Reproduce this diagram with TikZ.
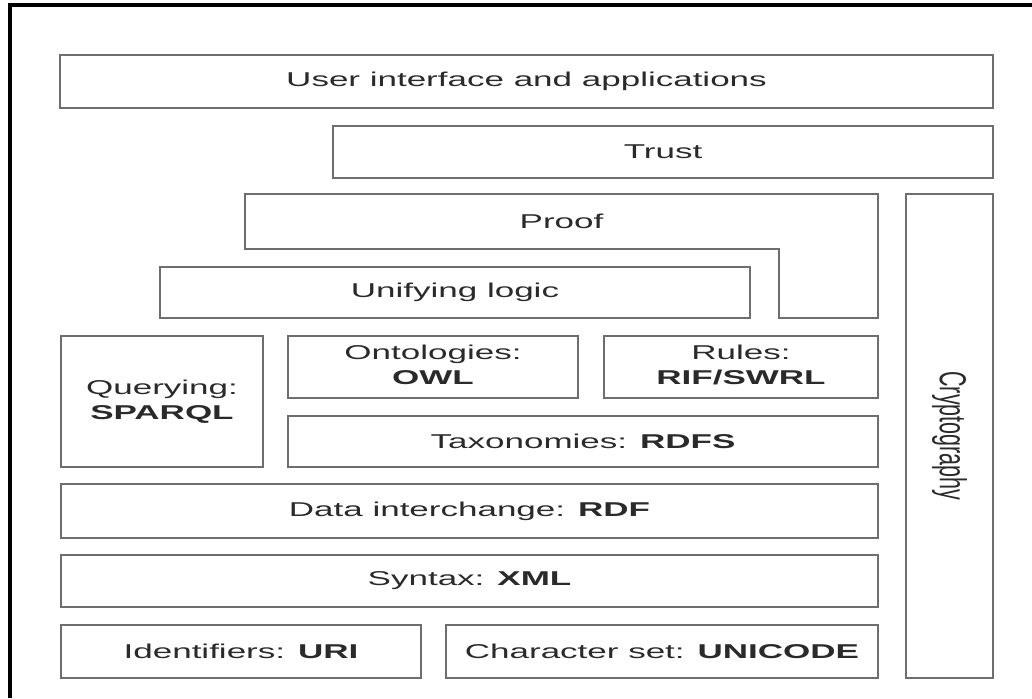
\documentclass[tikz,border=0pt]{standalone}
\usepackage{fontspec}
\setmainfont{Liberation Sans}
\usepackage{graphicx}

\definecolor{edgegray}{HTML}{6E6E6E}
\definecolor{inkgray}{HTML}{2A2A2A}

% the layer texts are stretched sideways
\newcommand\wide[1]{\scalebox{1.75}[1]{#1}}
\newcommand\twoline[2]{\wide{\begin{tabular}{@{}c@{}}#1\\\textbf{#2}\end{tabular}}}

\tikzset{
  layer/.style 2 args={draw=edgegray, line width=2pt, inner sep=0pt,
    minimum width=#1, minimum height=#2, text=inkgray,
    font=\fontsize{20}{25}\selectfont},
  label/.style={text=inkgray, font=\fontsize{20}{25}\selectfont},
}

\begin{document}
\begin{tikzpicture}[x=1pt,y=-1pt]
  \useasboundingbox (0,0) rectangle (1032,698);
  % frame, cut off at right and bottom
  \draw[line width=4pt] (10,698) -- (10,5.5) -- (1032,5.5);

  \node[layer={933}{53}] (user) at (526.5,81.5) {\wide{User interface and applications}};
  \node[layer={660}{52}] (trust) at (663,152) {\wide{Trust}};

  % proof wraps round the end of unifying logic
  \draw[draw=edgegray, line width=2pt] (245,194) -- (878,194) -- (878,318)
    -- (779,318) -- (779,249) -- (245,249) -- cycle;
  \node[label] (proof) at (561.5,221.5) {\wide{Proof}};

  \node[layer={590}{51}] (unify) at (455,292.5) {\wide{Unifying logic}};

  \node[layer={87}{484}, font=\fontsize{21.5}{25}\selectfont] (crypto) at (949.5,436)
    {\wide{\rotatebox{-90}{Cryptography}}};

  \node[layer={202}{131}] (query) at (162,401.5) {\twoline{Querying:}{SPARQL}};
  \node[layer={290}{62}] (onto) at (433,367) {\twoline{Ontologies:}{OWL}};
  \node[layer={274}{62}] (rules) at (741,367) {\twoline{Rules:}{RIF/SWRL}};
  \node[layer={590}{51}] (taxo) at (583,441.5) {\wide{Taxonomies: \textbf{RDFS}}};

  \node[layer={817}{54}] (rdf) at (469.5,511) {\wide{Data interchange: \textbf{RDF}}};
  \node[layer={817}{52}] (xml) at (469.5,581) {\wide{Syntax: \textbf{XML}}};

  \node[layer={360}{53}] (uri) at (241,651.5) {\wide{Identifiers: \textbf{URI}}};
  \node[layer={432}{53}] (charset) at (662,651.5) {\wide{Character set: \textbf{UNICODE}}};
\end{tikzpicture}
\end{document}
